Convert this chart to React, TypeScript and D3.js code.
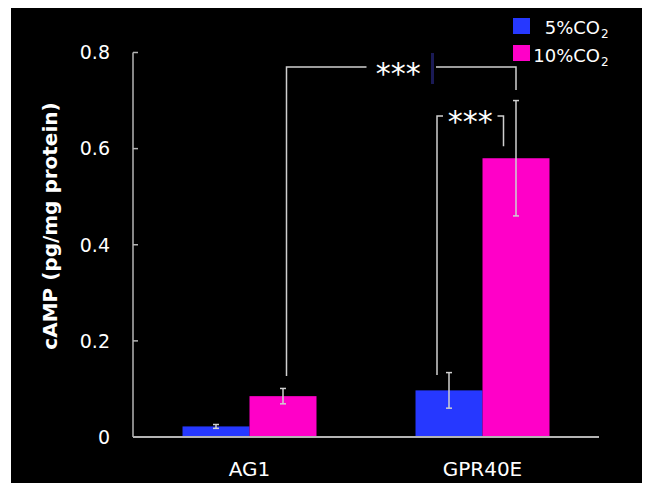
import React from "react";
import * as d3 from "d3";

const categories = ["AG1", "GPR40E"];
const series = ["5%CO2", "10%CO2"];
const means5 = [0.022, 0.097];
const errs5 = [0.004, 0.037];
const means10 = [0.085, 0.58];
const errs10 = [0.016, 0.12];
const yTicks = [0, 0.2, 0.4, 0.6, 0.8];
const colors = ["#2638FF", "#FF00C8"];

const W = 648;
const H = 483;

export default function App() {
  const y = d3.scaleLinear().domain([0, 0.8]).range([437, 52.5]);
  const x = d3.scaleBand().domain(categories).range([133, 599]).paddingInner(0).paddingOuter(0);
  const xs = d3.scaleBand().domain(series).range([0, x.bandwidth()]).paddingInner(0).paddingOuter(0.739);
  const font = "'DejaVu Sans', Verdana, sans-serif";
  const axisColor = "#b4b4b4";
  const errColor = "#d0d0d0";

  const data = categories.map((c, i) => [
    { s: series[0], m: means5[i], e: errs5[i], color: colors[0] },
    { s: series[1], m: means10[i], e: errs10[i], color: colors[1] },
  ]);

  const cx = (ci: number, si: number) => (x(categories[ci]) as number) + (xs(series[si]) as number) + xs.bandwidth() / 2;

  const bigL = cx(0, 1) + 3.5;
  const bigR = cx(1, 1);
  const smL = cx(1, 0) - 12;
  const smR = cx(1, 1) - 12.5;
  const bigTop = y(0.77);
  const smTop = y(0.668);

  return (
    <svg width={W} height={H} style={{ display: "block", position: "absolute", left: 0, top: 0 }}>
      <rect x={0} y={0} width={W} height={H} fill="#fff" />
      <rect x={11} y={8} width={631} height={475} fill="#000" />

      {/* y axis */}
      <line x1={133} x2={133} y1={y(0.8)} y2={y(0)} stroke={axisColor} strokeWidth={1.5} />
      {yTicks.map((t) => (
        <g key={t}>
          <line x1={133} x2={138} y1={y(t)} y2={y(t)} stroke={axisColor} strokeWidth={1.5} />
          <text x={110} y={y(t)} dy="0.36em" textAnchor="end" fill="#fff" fontFamily={font} fontSize={19}>
            {t === 0 ? "0" : t.toFixed(1)}
          </text>
        </g>
      ))}
      <text
        transform={`translate(57,226) rotate(-90)`}
        textAnchor="middle"
        fill="#fff"
        fontFamily={font}
        fontSize={20}
        fontWeight="bold"
      >
        cAMP (pg/mg protein)
      </text>

      {/* bars */}
      {data.map((grp, ci) =>
        grp.map((d, si) => {
          const bx = (x(categories[ci]) as number) + (xs(d.s) as number);
          const c = cx(ci, si);
          return (
            <g key={`${ci}-${si}`}>
              <rect x={bx} y={y(d.m)} width={xs.bandwidth()} height={y(0) - y(d.m)} fill={d.color} />
              <line x1={c} x2={c} y1={y(d.m + d.e)} y2={y(d.m - d.e)} stroke={errColor} strokeWidth={1.5} />
              <line x1={c - 3} x2={c + 3} y1={y(d.m + d.e)} y2={y(d.m + d.e)} stroke={errColor} strokeWidth={1.5} />
              <line x1={c - 3} x2={c + 3} y1={y(d.m - d.e)} y2={y(d.m - d.e)} stroke={errColor} strokeWidth={1.5} />
            </g>
          );
        })
      )}

      {/* x axis */}
      <line x1={133} x2={599} y1={y(0)} y2={y(0)} stroke={axisColor} strokeWidth={2} />
      {categories.map((c) => (
        <text key={c} x={(x(c) as number) + x.bandwidth() / 2} y={476} textAnchor="middle" fill="#fff" fontFamily={font} fontSize={20}>
          {c}
        </text>
      ))}

      {/* big bracket */}
      <polyline
        points={`${bigL},${y(0.127)} ${bigL},${bigTop} ${bigL + 80},${bigTop}`}
        fill="none"
        stroke={errColor}
        strokeWidth={1.5}
      />
      <polyline
        points={`${bigR - 80},${bigTop} ${bigR},${bigTop} ${bigR},${y(0.722)}`}
        fill="none"
        stroke={errColor}
        strokeWidth={1.5}
      />
      <rect x={431} y={53} width={3} height={31} fill="#1a1a55" />
      <text x={(bigL + bigR) / 2 - 3} y={bigTop + 17} textAnchor="middle" fill="#fff" fontFamily={font} fontSize={30}>
        ***
      </text>

      {/* small bracket */}
      <polyline
        points={`${smL},${y(0.129)} ${smL},${smTop} ${smL + 6},${smTop}`}
        fill="none"
        stroke={errColor}
        strokeWidth={1.5}
      />
      <polyline
        points={`${smR - 6},${smTop} ${smR},${smTop} ${smR},${y(0.605)}`}
        fill="none"
        stroke={errColor}
        strokeWidth={1.5}
      />
      <text x={(smL + smR) / 2} y={smTop + 16} textAnchor="middle" fill="#fff" fontFamily={font} fontSize={30}>
        ***
      </text>

      {/* legend */}
      {series.map((s, i) => (
        <g key={s}>
          <rect x={513} y={18 + i * 27} width={17} height={16} fill={colors[i]} />
          <text x={600} y={34 + i * 28} textAnchor="end" fill="#fff" fontFamily={font} fontSize={18}>
            {s.replace("2", "")}
          </text>
          <text x={601} y={38 + i * 28} fill="#fff" fontFamily={font} fontSize={12}>
            2
          </text>
        </g>
      ))}
    </svg>
  );
}
